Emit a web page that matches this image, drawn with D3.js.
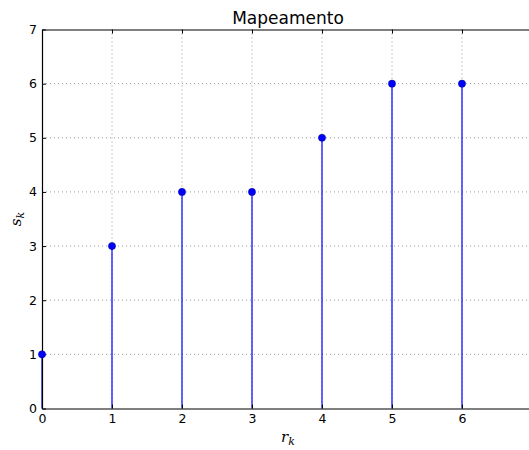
<!DOCTYPE html>
<html>
<head>
<meta charset="utf-8">
<script src="https://cdn.jsdelivr.net/npm/d3@7"></script>
<style>
  body { margin: 0; background: #fff; }
  text { font-family: "DejaVu Sans", sans-serif; }
</style>
</head>
<body>
<div id="chart"></div>
<script>
var width = 529;
var height = 450;

// data
const rk = [0, 1, 2, 3, 4, 5, 6];
const sk = [1, 3, 4, 4, 5, 6, 6];
const xTicks = [0, 1, 2, 3, 4, 5, 6];
const yTicks = [0, 1, 2, 3, 4, 5, 6, 7];

var margin = { top: 29.5, left: 42, bottom: 41.5 };
var plotW = 490, plotH = height - margin.top - margin.bottom;

var svg = d3.select("#chart").append("svg")
    .attr("width", width)
    .attr("height", height);

var g = svg.append("g")
    .attr("transform", "translate(" + margin.left + "," + margin.top + ")");

var x = d3.scaleLinear().domain([0, 7]).range([0, plotW]);
var y = d3.scaleLinear().domain([0, 7]).range([plotH, 0]);

// dotted grid
g.selectAll(".gx").data(xTicks.filter(d => d > 0)).enter().append("line")
    .attr("x1", d => x(d)).attr("x2", d => x(d))
    .attr("y1", 0).attr("y2", plotH)
    .attr("stroke", "#999").attr("stroke-width", 1)
    .attr("stroke-dasharray", "1,3");
g.selectAll(".gy").data(yTicks.filter(d => d > 0 && d < 7)).enter().append("line")
    .attr("x1", 0).attr("x2", plotW)
    .attr("y1", d => y(d)).attr("y2", d => y(d))
    .attr("stroke", "#999").attr("stroke-width", 1)
    .attr("stroke-dasharray", "1,3");

// stems
g.selectAll(".stem").data(rk).enter().append("line")
    .attr("x1", d => x(d)).attr("x2", d => x(d))
    .attr("y1", y(0)).attr("y2", (d, i) => y(sk[i]))
    .attr("stroke", "blue").attr("stroke-width", 1.2);

// axes: ticks inside, like matplotlib classic
var fmt = d3.format("d");
var bottomAxis = d3.axisBottom(x).tickValues(xTicks).tickFormat(fmt).tickSizeInner(-4).tickSizeOuter(0).tickPadding(6);
var leftAxis = d3.axisLeft(y).tickValues(yTicks).tickFormat(fmt).tickSizeInner(-4).tickSizeOuter(0).tickPadding(5);
var topAxis = d3.axisTop(x).tickValues(xTicks).tickSizeInner(-4).tickSizeOuter(0).tickFormat(() => "");

g.append("g").attr("transform", "translate(0," + plotH + ")").call(bottomAxis);
g.append("g").call(leftAxis);
g.append("g").call(topAxis);

g.selectAll(".domain").attr("stroke", "#000").attr("stroke-width", 1.2);
g.selectAll(".tick line").attr("stroke", "#000");
g.selectAll(".tick text").attr("font-size", 12.5).attr("fill", "#000")
    .style("font-family", "DejaVu Sans, sans-serif");

// markers
g.selectAll(".dot").data(rk).enter().append("circle")
    .attr("cx", d => x(d)).attr("cy", (d, i) => y(sk[i]))
    .attr("r", 3.6)
    .attr("fill", "blue").attr("stroke", "#000080").attr("stroke-width", 0.5);

// title and labels
svg.append("text")
    .attr("x", 288).attr("y", 24)
    .attr("text-anchor", "middle").attr("font-size", 17)
    .text("Mapeamento");

var xl = svg.append("text")
    .attr("x", 288).attr("y", 442)
    .attr("text-anchor", "middle")
    .style("font-family", "DejaVu Serif, serif").style("font-style", "italic")
    .attr("font-size", 15);
xl.append("tspan").text("r");
xl.append("tspan").attr("dy", 3).attr("font-size", 11).text("k");

var yl = svg.append("text")
    .attr("transform", "translate(21," + (margin.top + y(3.5)) + ") rotate(-90)")
    .attr("text-anchor", "middle")
    .style("font-family", "DejaVu Serif, serif").style("font-style", "italic")
    .attr("font-size", 15);
yl.append("tspan").text("s");
yl.append("tspan").attr("dy", 3).attr("font-size", 11).text("k");
</script>
</body>
</html>
